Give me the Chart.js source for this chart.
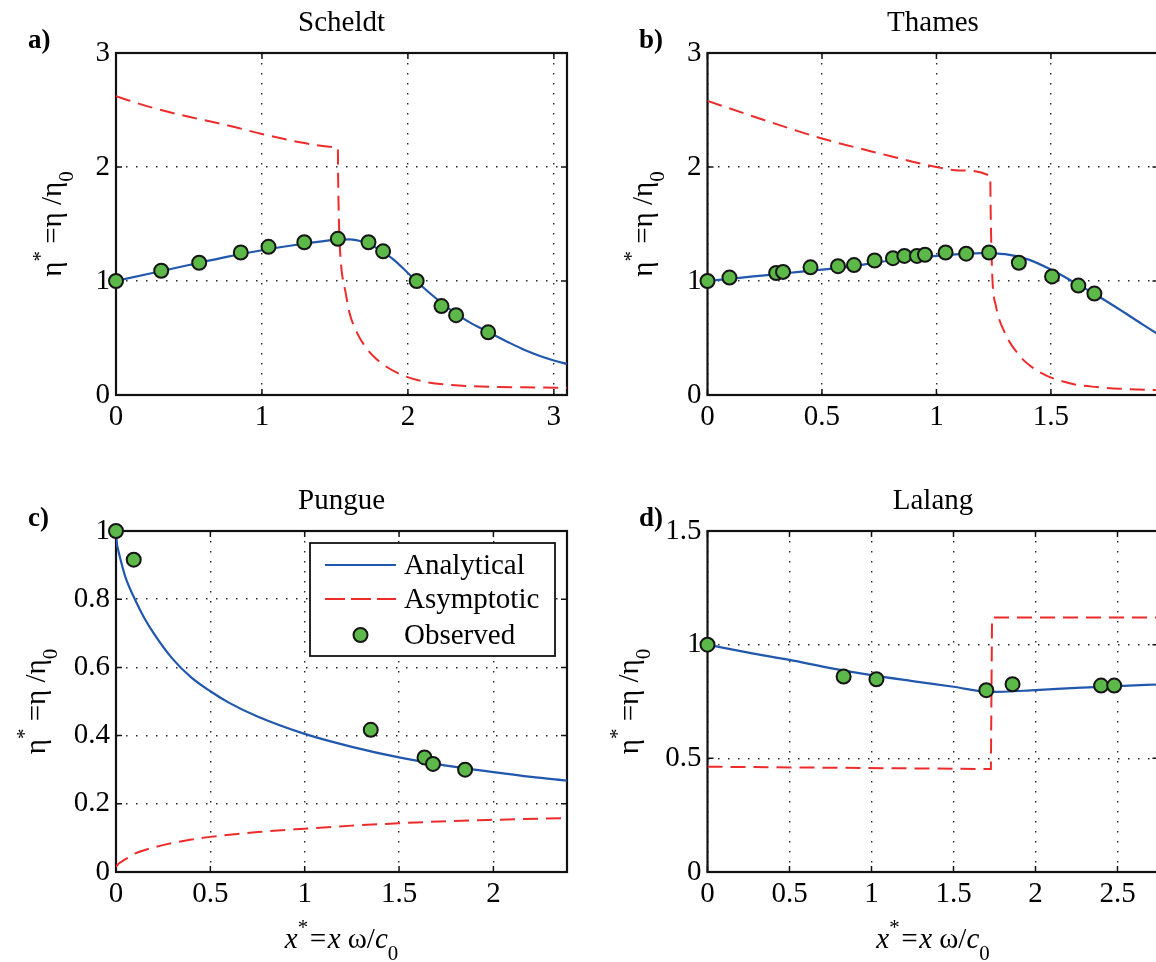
<!DOCTYPE html>
<html>
<head>
<meta charset="utf-8">
<script src="https://cdn.jsdelivr.net/npm/chart.js@4.4.1/dist/chart.umd.min.js"></script>
<style>
html, body { margin: 0; padding: 0; background: #ffffff; overflow: hidden; width: 1156px; height: 962px; }
#wrap { position: relative; width: 1156px; height: 962px; overflow: hidden; background: #ffffff; }
canvas { position: absolute; }
</style>
</head>
<body>
<div id="wrap">
  <canvas id="pa" width="578" height="478" style="left:0px;top:0px"></canvas>
  <canvas id="pb" width="600" height="478" style="left:578px;top:0px"></canvas>
  <canvas id="pc" width="578" height="484" style="left:0px;top:478px"></canvas>
  <canvas id="pd" width="600" height="484" style="left:578px;top:478px"></canvas>
</div>
<script>
// ---------------- DATA ----------------
// a) Scheldt
const scheldtObsX = [0, 0.31, 0.57, 0.855, 1.045, 1.29, 1.52, 1.73, 1.83, 2.06, 2.23, 2.33, 2.55];
const scheldtObsY = [1.00, 1.09, 1.16, 1.25, 1.30, 1.34, 1.37, 1.34, 1.26, 1.00, 0.78, 0.70, 0.55];
const scheldtAnaX = [0, 0.25, 0.5, 0.75, 1.0, 1.25, 1.5, 1.6, 1.7, 1.8, 1.9, 2.0, 2.1, 2.2, 2.3, 2.4, 2.5, 2.6, 2.7, 2.8, 2.9, 3.0, 3.09];
const scheldtAnaY = [1.00, 1.07, 1.14, 1.21, 1.27, 1.32, 1.36, 1.365, 1.34, 1.28, 1.19, 1.07, 0.95, 0.84, 0.74, 0.655, 0.585, 0.52, 0.455, 0.395, 0.345, 0.303, 0.272];
const scheldtAsyX = [0, 0.25, 0.5, 0.75, 1.0, 1.25, 1.5, 1.52, 1.522, 1.526, 1.532, 1.54, 1.55, 1.57, 1.60, 1.65, 1.71, 1.78, 1.85, 1.97, 2.12, 2.3, 2.5, 2.8, 3.09];
const scheldtAsyY = [2.62, 2.52, 2.44, 2.37, 2.29, 2.22, 2.175, 2.17, 1.90, 1.60, 1.35, 1.17, 1.05, 0.92, 0.72, 0.55, 0.42, 0.32, 0.25, 0.17, 0.115, 0.088, 0.075, 0.067, 0.064];

// b) Thames
const thamesObsX = [0, 0.096, 0.30, 0.33, 0.45, 0.57, 0.64, 0.73, 0.81, 0.86, 0.915, 0.95, 1.04, 1.13, 1.23, 1.36, 1.505, 1.62, 1.69];
const thamesObsY = [1.00, 1.03, 1.07, 1.08, 1.12, 1.13, 1.14, 1.18, 1.20, 1.22, 1.22, 1.23, 1.25, 1.24, 1.25, 1.16, 1.04, 0.96, 0.89];
const thamesAnaX = [0, 0.1, 0.2, 0.3, 0.4, 0.5, 0.6, 0.7, 0.8, 0.9, 1.0, 1.1, 1.2, 1.3, 1.4, 1.5, 1.6, 1.7, 1.8, 1.9, 1.97];
const thamesAnaY = [1.00, 1.02, 1.04, 1.06, 1.08, 1.10, 1.12, 1.15, 1.18, 1.20, 1.22, 1.235, 1.245, 1.235, 1.19, 1.10, 0.99, 0.875, 0.75, 0.62, 0.53];
const thamesAsyX = [0, 0.25, 0.5, 0.75, 1.0, 1.1, 1.235, 1.237, 1.24, 1.245, 1.26, 1.30, 1.365, 1.42, 1.48, 1.55, 1.61, 1.7, 1.8, 1.97];
const thamesAsyY = [2.58, 2.41, 2.25, 2.12, 2.00, 1.97, 1.92, 1.60, 1.30, 1.00, 0.78, 0.54, 0.34, 0.24, 0.17, 0.12, 0.09, 0.07, 0.055, 0.043];

// c) Pungue
const pungueObsX = [0, 0.094, 1.35, 1.635, 1.68, 1.85];
const pungueObsY = [1.00, 0.916, 0.417, 0.336, 0.317, 0.30];
const pungueAnaX = [0, 0.005, 0.01, 0.02, 0.05, 0.1, 0.15, 0.2, 0.3, 0.4, 0.5, 0.6, 0.75, 1.0, 1.25, 1.5, 1.75, 2.0, 2.2, 2.39];
const pungueAnaY = [1.00, 0.962, 0.948, 0.925, 0.865, 0.80, 0.745, 0.70, 0.625, 0.57, 0.53, 0.496, 0.456, 0.405, 0.367, 0.336, 0.312, 0.293, 0.279, 0.268];
const pungueAsyX = [0, 0.01, 0.02, 0.04, 0.07, 0.1, 0.15, 0.2, 0.3, 0.4, 0.5, 0.75, 1.0, 1.25, 1.5, 1.75, 2.0, 2.39];
const pungueAsyY = [0.015, 0.022, 0.027, 0.034, 0.044, 0.054, 0.064, 0.072, 0.085, 0.095, 0.103, 0.117, 0.127, 0.136, 0.143, 0.149, 0.153, 0.158];

// d) Lalang
const lalangObsX = [0, 0.83, 1.03, 1.70, 1.86, 2.40, 2.48];
const lalangObsY = [1.00, 0.86, 0.848, 0.80, 0.826, 0.82, 0.82];
const lalangAnaX = [0, 0.25, 0.5, 0.75, 1.0, 1.25, 1.5, 1.72, 2.0, 2.25, 2.5, 2.76];
const lalangAnaY = [1.00, 0.965, 0.933, 0.897, 0.866, 0.84, 0.815, 0.792, 0.80, 0.81, 0.818, 0.825];
const lalangAsyX = [0, 1.728, 1.735, 2.76];
const lalangAsyY = [0.463, 0.453, 1.12, 1.12];

// tick labels
const ticksA_x = [0, 1, 2, 3];
const ticksA_y = [0, 1, 2, 3];
const ticksB_x = [0, 0.5, 1, 1.5];
const ticksB_y = [0, 1, 2, 3];
const ticksC_x = [0, 0.5, 1, 1.5, 2];
const ticksC_y = [0, 0.2, 0.4, 0.6, 0.8, 1];
const ticksD_x = [0, 0.5, 1, 1.5, 2, 2.5];
const ticksD_y = [0, 0.5, 1, 1.5];

const seriesNames = ['Analytical', 'Asymptotic', 'Observed'];
const panelTitles = ['Scheldt', 'Thames', 'Pungue', 'Lalang'];
const panelLetters = ['a)', 'b)', 'c)', 'd)'];

// ---------------- STYLE ----------------
const SERIF = '"Liberation Serif", "Times New Roman", serif';
const BLUE = '#2157ad';
const RED = '#ee2b2b';
const GREEN = '#5cb848';
const DASH = [15, 8];

const yLabelParts = [{t: 'η'}, {t: '*', sup: true}, {t: ' =η /η'}, {t: '0', sub: true}];
const xLabelParts = [{t: 'x', it: true}, {t: '*', sup: true}, {t: '=x', it: true}, {t: ' ω/'}, {t: 'c', it: true}, {t: '0', sub: true}];

function zip(xs, ys) { return xs.map((x, i) => ({x: x, y: ys[i]})); }

function partFont(p, size) {
  const s = (p.sup || p.sub) ? size * 0.72 : size;
  return (p.it ? 'italic ' : '') + s + 'px ' + SERIF;
}
function richWidth(ctx, parts, size) {
  let w = 0;
  parts.forEach(p => { ctx.font = partFont(p, size); w += ctx.measureText(p.t).width; });
  return w;
}
function drawRich(ctx, parts, size, cx, by) {
  const w = richWidth(ctx, parts, size);
  let x = cx - w / 2;
  ctx.textAlign = 'left';
  ctx.textBaseline = 'alphabetic';
  parts.forEach(p => {
    ctx.font = partFont(p, size);
    let dy = 0;
    if (p.sup) dy = -size * 0.5;
    if (p.sub) dy = size * 0.42;
    ctx.fillText(p.t, x, by + dy);
    x += ctx.measureText(p.t).width;
  });
}

const decorPlugin = {
  id: 'decor',
  beforeDatasetsDraw(chart) {
    const {ctx, chartArea: a, scales} = chart;
    const xs = scales.x, ys = scales.y;
    ctx.save();
    ctx.strokeStyle = '#111';
    ctx.lineWidth = 1.5;
    ctx.beginPath();
    xs.ticks.forEach(t => {
      const p = xs.getPixelForValue(t.value);
      ctx.moveTo(p, a.bottom); ctx.lineTo(p, a.bottom - 6);
      ctx.moveTo(p, a.top); ctx.lineTo(p, a.top + 6);
    });
    ys.ticks.forEach(t => {
      const p = ys.getPixelForValue(t.value);
      ctx.moveTo(a.left, p); ctx.lineTo(a.left + 6, p);
      ctx.moveTo(a.right, p); ctx.lineTo(a.right - 6, p);
    });
    ctx.stroke();
    ctx.lineWidth = 2.2;
    ctx.strokeRect(a.left, a.top, a.right - a.left, a.bottom - a.top);
    ctx.restore();
  },
  afterDraw(chart) {
    const {ctx, chartArea: a} = chart;
    const o = chart.options.plugins.decor;
    ctx.save();
    ctx.fillStyle = '#000';
    // panel letter
    ctx.font = 'bold 27px ' + SERIF;
    ctx.textAlign = 'left';
    ctx.textBaseline = 'middle';
    ctx.fillText(o.letter, o.letterX, 41);
    // y label (rotated)
    ctx.save();
    ctx.translate(o.yLabelX, (a.top + a.bottom) / 2);
    ctx.rotate(-Math.PI / 2);
    drawRich(ctx, yLabelParts, 29, 0, 0);
    ctx.restore();
    // x label
    if (o.xLabel) {
      drawRich(ctx, xLabelParts, 29, (a.left + a.right) / 2, o.xLabelY);
    }
    // legend
    if (o.legend) {
      const L = o.legend;
      const ds = chart.data.datasets;
      ctx.fillStyle = '#fff';
      ctx.fillRect(L.x, L.y, L.w, L.h);
      ctx.strokeStyle = '#111';
      ctx.lineWidth = 1.8;
      ctx.strokeRect(L.x, L.y, L.w, L.h);
      ctx.font = '29px ' + SERIF;
      ctx.textBaseline = 'middle';
      ctx.textAlign = 'left';
      seriesNames.forEach((name, i) => {
        const yy = L.y + L.rows[i];
        const d = ds[i];
        if (i < 2) {
          ctx.save();
          ctx.strokeStyle = d.borderColor;
          ctx.lineWidth = 2;
          ctx.setLineDash(i === 1 ? [20, 6] : []);
          ctx.beginPath();
          ctx.moveTo(L.x + L.s0, yy);
          ctx.lineTo(L.x + L.s1, yy);
          ctx.stroke();
          ctx.restore();
        } else {
          ctx.save();
          ctx.beginPath();
          ctx.arc(L.x + (L.s0 + L.s1) / 2, yy, 7, 0, Math.PI * 2);
          ctx.fillStyle = d.backgroundColor;
          ctx.fill();
          ctx.lineWidth = 2;
          ctx.strokeStyle = d.borderColor;
          ctx.stroke();
          ctx.restore();
        }
        ctx.fillStyle = '#000';
        ctx.fillText(name, L.x + L.tx, yy + 1);
      });
    }
    ctx.restore();
  }
};

function makePanel(id, p) {
  const tickFont = {family: SERIF, size: 29, weight: 'normal'};
  return new Chart(document.getElementById(id), {
    type: 'scatter',
    data: {
      datasets: [
        {label: seriesNames[0], data: zip(p.anaX, p.anaY), showLine: true, borderColor: BLUE, backgroundColor: BLUE,
         borderWidth: 2.2, pointRadius: 0, pointHoverRadius: 0, cubicInterpolationMode: 'monotone', order: 1},
        {label: seriesNames[1], data: zip(p.asyX, p.asyY), showLine: true, borderColor: RED, backgroundColor: RED,
         borderWidth: 2, borderDash: DASH, pointRadius: 0, pointHoverRadius: 0,
         cubicInterpolationMode: p.asyStep ? 'default' : 'monotone', tension: 0, order: 2},
        {label: seriesNames[2], data: zip(p.obsX, p.obsY), showLine: false, backgroundColor: GREEN, borderColor: '#151515',
         borderWidth: 2, pointRadius: 7, pointHoverRadius: 7, clip: false, order: 0}
      ]
    },
    options: {
      responsive: false,
      animation: false,
      devicePixelRatio: 1,
      events: [],
      layout: {padding: {left: 0, right: p.padR, top: 0, bottom: 0}},
      plugins: {
        legend: {display: false},
        tooltip: {enabled: false},
        title: {display: true, text: p.title, fullSize: false, color: '#000',
                font: {family: SERIF, size: 29, weight: 'normal', lineHeight: 1.2},
                padding: {top: 6, bottom: 12.2}},
        decor: p.decor
      },
      scales: {
        x: {
          type: 'linear', min: 0, max: p.xMax,
          afterFit: s => { s.height = p.xAxisH; },
          afterBuildTicks: s => { s.ticks = p.xTicks.map(v => ({value: v})); },
          ticks: {callback: v => String(v), font: tickFont, color: '#000', padding: 5, maxRotation: 0, autoSkip: false},
          grid: {color: 'rgba(0,0,0,0.85)', lineWidth: 1.4, drawTicks: false},
          border: {display: false, dash: [1.5, 8.5]}
        },
        y: {
          type: 'linear', min: 0, max: p.yMax,
          afterFit: s => { s.width = p.yAxisW; },
          afterBuildTicks: s => { s.ticks = p.yTicks.map(v => ({value: v})); },
          ticks: {callback: v => String(v), font: tickFont, color: '#000', padding: 6, autoSkip: false},
          grid: {color: 'rgba(0,0,0,0.85)', lineWidth: 1.4, drawTicks: false},
          border: {display: false, dash: [1.5, 8.5]}
        }
      }
    },
    plugins: [decorPlugin]
  });
}

makePanel('pa', {
  title: panelTitles[0], anaX: scheldtAnaX, anaY: scheldtAnaY, asyX: scheldtAsyX, asyY: scheldtAsyY,
  obsX: scheldtObsX, obsY: scheldtObsY, xMax: 3.09, yMax: 3, xTicks: ticksA_x, yTicks: ticksA_y,
  yAxisW: 116, xAxisH: 83, padR: 11,
  decor: {letter: panelLetters[0], letterX: 28, yLabelX: 61, xLabel: false}
});
makePanel('pb', {
  title: panelTitles[1], anaX: thamesAnaX, anaY: thamesAnaY, asyX: thamesAsyX, asyY: thamesAsyY,
  obsX: thamesObsX, obsY: thamesObsY, xMax: 1.97, yMax: 3, xTicks: ticksB_x, yTicks: ticksB_y,
  yAxisW: 129.5, xAxisH: 83, padR: 19.5,
  decor: {letter: panelLetters[1], letterX: 61, yLabelX: 74, xLabel: false}
});
makePanel('pc', {
  title: panelTitles[2], anaX: pungueAnaX, anaY: pungueAnaY, asyX: pungueAsyX, asyY: pungueAsyY,
  obsX: pungueObsX, obsY: pungueObsY, xMax: 2.39, yMax: 1, xTicks: ticksC_x, yTicks: ticksC_y,
  yAxisW: 116, xAxisH: 90, padR: 11,
  decor: {letter: panelLetters[2], letterX: 28, yLabelX: 45, xLabel: true, xLabelY: 470,
          legend: {x: 310, y: 65, w: 245, h: 113, rows: [22, 56, 92], s0: 15, s1: 86, tx: 94}}
});
makePanel('pd', {
  title: panelTitles[3], anaX: lalangAnaX, anaY: lalangAnaY, asyX: lalangAsyX, asyY: lalangAsyY, asyStep: true,
  obsX: lalangObsX, obsY: lalangObsY, xMax: 2.75, yMax: 1.5, xTicks: ticksD_x, yTicks: ticksD_y,
  yAxisW: 129.5, xAxisH: 90, padR: 19.5,
  decor: {letter: panelLetters[3], letterX: 61, yLabelX: 60, xLabel: true, xLabelY: 470}
});
</script>
</body>
</html>
